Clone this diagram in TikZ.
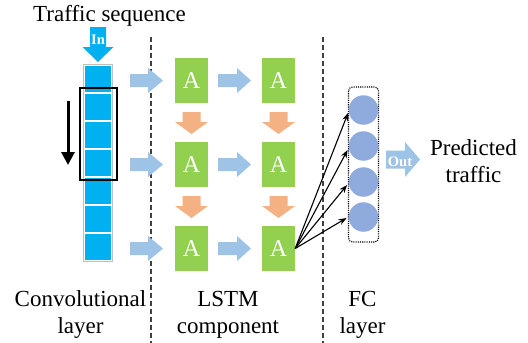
\documentclass[tikz,border=0pt]{standalone}
\usepackage{fontspec}
\setmainfont{Liberation Serif}
\usetikzlibrary{arrows.meta,calc}
\definecolor{cyanc}{HTML}{00B0F0}
\definecolor{lblue}{HTML}{9DC3E6}
\definecolor{lorange}{HTML}{F4B183}
\definecolor{lgreen}{HTML}{92D050}
\definecolor{cblue}{HTML}{8FAADC}
\definecolor{dgray}{HTML}{404040}
\definecolor{lgray}{HTML}{BFBFBF}
% right block arrow: x1 x2 xhead yc halfshaft halfhead colour
\newcommand\rblk[7]{\fill[#7] (#1,{#4-#5}) -- (#3,{#4-#5}) -- (#3,{#4-#6}) -- (#2,#4) -- (#3,{#4+#6}) -- (#3,{#4+#5}) -- (#1,{#4+#5}) -- cycle;}
% down block arrow: xc y1 yhead y2 halfshaft halfhead colour
\newcommand\dblk[7]{\fill[#7] ({#1-#5},#2) -- ({#1+#5},#2) -- ({#1+#5},#3) -- ({#1+#6},#3) -- (#1,#4) -- ({#1-#6},#3) -- ({#1-#5},#3) -- cycle;}
\tikzset{
  lab/.style={font=\fontsize{23}{27}\selectfont, anchor=base, inner sep=0pt},
  abox/.style={rectangle, fill=lgreen, minimum width=33pt, minimum height=45pt, inner sep=0pt, text=white, font=\fontsize{24}{28}\selectfont},
  neuron/.style={circle, fill=cblue, minimum size=29.5pt, inner sep=0pt},
  sep/.style={dgray, line width=1.2pt, dash pattern=on 5pt off 3pt},
  conn/.style={black, line width=1.1pt, -{Stealth[length=8pt,width=6pt]}},
  wtxt/.style={text=white, font=\bfseries\fontsize{14.5}{16}\selectfont, inner sep=0pt}
}
\begin{document}
\begin{tikzpicture}[x=1pt,y=-1pt]
\useasboundingbox (0,0) rectangle (528,343);
% title
\node[lab] (title) at (109.5,21) {Traffic sequence};
% In arrow
\dblk{98}{27}{47}{62}{8}{15.5}{cyanc}
\node[wtxt] (in) at (98,40) {In};
% conv column
\draw[lgray, line width=0.8pt, fill=white] (83.5,64) rectangle (112.5,261);
\foreach \k in {0,...,6}{
  \fill[cyanc] (85,{64.5+28*\k+1}) rectangle (111,{64.5+28*(\k+1)-1});
}
\draw[black, line width=1.5pt] (80,88) rectangle (117,180);
\draw[black, line width=3pt, -{Triangle[length=13pt,width=13pt]}] (68,101) -- (68,165);
% separators
\draw[sep] (151,37) -- (151,343);
\draw[sep] (323,37) -- (323,343);
% LSTM boxes
\foreach \r/\y in {1/80.5,2/164.5,3/248.5}{
  \node[abox] (a\r1) at (191.5,\y) {\raisebox{-2.5pt}{A}};
  \node[abox] (a\r2) at (278.5,\y) {\raisebox{-2.5pt}{A}};
  \rblk{130}{163}{148}{\y}{6.5}{12.5}{lblue}
  \rblk{218}{251}{237}{\y}{6.5}{12.5}{lblue}
}
\foreach \x in {191.5,278.5}{
  \dblk{\x}{112}{122}{134}{9}{16.5}{lorange}
  \dblk{\x}{196}{206}{218}{9}{16.5}{lorange}
}
% FC layer
\draw[black, line width=1.1pt, dash pattern=on 1.1pt off 1.1pt, rounded corners=4pt] (348.5,87) rectangle (378.5,242);
\node[neuron] (c1) at (363.5,110) {};
\node[neuron] (c2) at (363.5,146) {};
\node[neuron] (c3) at (363.5,182) {};
\node[neuron] (c4) at (363.5,217) {};
\draw[conn] (a32.east) -- ([xshift=-0.5pt,yshift=-3pt]c1.west);
\draw[conn] (a32.east) -- ([xshift=-1pt,yshift=-4pt]c2.west);
\draw[conn] (a32.east) -- ([xshift=-1.5pt,yshift=-3pt]c3.west);
\draw[conn] (a32.east) -- ([xshift=-2pt,yshift=-1pt]c4.west);
% Out arrow
\rblk{386}{420}{405}{159.5}{9}{17.5}{lblue}
\node[wtxt] (out) at (400,162) {Out};
\node[lab] (pred1) at (473.5,155) {Predicted};
\node[lab] (pred2) at (473.5,182) {traffic};
% bottom labels
\node[lab] (conv1) at (80.5,306) {Convolutional};
\node[lab] (conv2) at (80.5,333) {layer};
\node[lab] (lstm1) at (228,306) {LSTM};
\node[lab] (lstm2) at (228,333) {component};
\node[lab] (fc1) at (362.5,306) {FC};
\node[lab] (fc2) at (362.5,333) {layer};
\end{tikzpicture}
\end{document}
